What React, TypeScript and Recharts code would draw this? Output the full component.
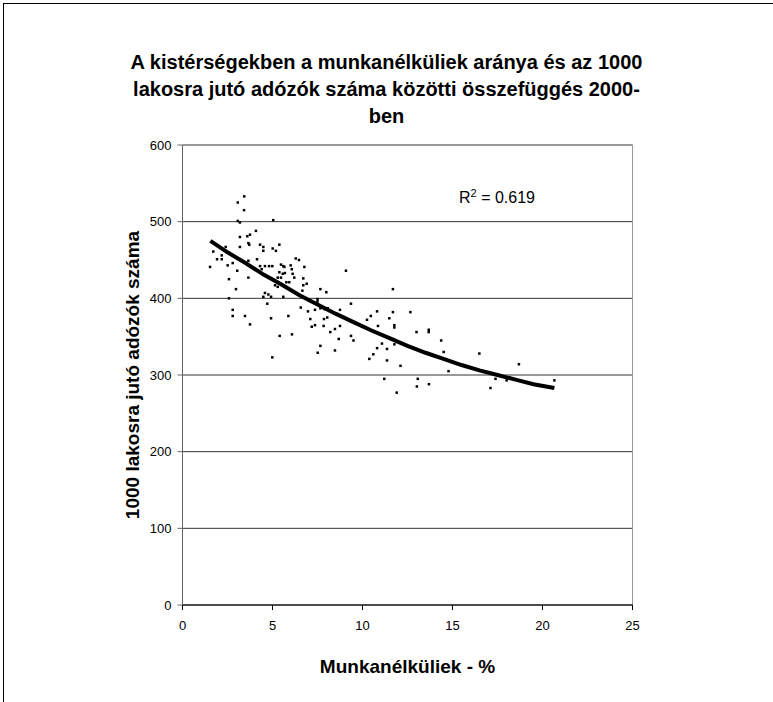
import React from "react";
import { ScatterChart, Scatter, XAxis, YAxis, CartesianGrid, ReferenceLine } from "recharts";

const unemploymentPct: number[] = [
  1.53, 1.71, 1.92, 2.18, 2.18, 2.4, 2.51, 2.58, 2.58, 2.79, 2.79, 2.79, 2.97, 3.04, 3.07, 3.07, 3.19, 3.19, 3.19,
  3.43, 3.42, 3.47, 3.6, 3.66, 3.71, 3.66, 3.66, 3.75, 3.75, 4.08, 4.14, 4.31, 4.31, 4.4, 4.49, 4.49, 4.49, 4.58,
  4.58, 4.71, 4.77, 4.81, 4.92, 4.92, 4.99, 4.99, 5.01, 5.04, 5.14, 5.19, 5.29, 5.29, 5.38, 5.38, 5.4, 5.47, 5.47,
  5.57, 5.6, 5.6, 5.66, 5.69, 5.77, 5.88, 5.93, 6.01, 6.07, 6.08, 6.12, 6.21, 6.29, 6.47,
  6.57, 6.66, 6.71, 6.71, 6.77, 6.9, 6.97, 7.1, 7.18, 7.36, 7.36, 7.5, 7.5, 7.51, 7.66, 7.66, 7.66, 7.86, 7.84,
  7.88, 7.99, 8.04, 8.07, 8.21, 8.47, 8.47, 8.68, 8.75, 8.75, 9.08, 9.36, 9.36, 9.5, 10.25, 10.38, 10.46, 10.6,
  10.81, 10.81, 10.86, 11.08, 11.21, 11.36, 11.36, 11.49, 11.69, 11.69, 11.77, 11.77, 11.77, 11.9, 12.11, 12.66,
  13.0, 13.07, 13.02, 13.68, 13.68, 13.69, 14.37, 14.51, 14.78, 16.49, 17.11, 17.39, 18.01, 18.69, 20.66,
];

const taxpayersPer1000: number[] = [
  441, 461, 451, 456, 451, 467, 443, 425, 400, 446, 385, 377, 412, 436, 525, 501, 499, 480, 467,
  533, 515, 377, 481, 472, 470, 449, 427, 483, 366, 488, 451, 470, 442, 438, 467, 462, 402, 442,
  407, 393, 405, 442, 402, 374, 442, 323, 465, 502, 417, 462, 427, 415, 470, 434, 351, 444, 427,
  432, 442, 402, 441, 433, 421, 377, 421, 443, 438, 353, 432, 427, 452, 450,
  388, 410, 426, 417, 441, 419, 383, 373, 363, 365, 385, 399, 396, 329, 412, 387, 338, 373, 364,
  386, 408, 375, 387, 356, 360, 332, 347, 385, 364, 436, 393, 351, 345, 372, 321, 377, 327,
  383, 335, 364, 341, 295, 334, 319, 374, 412, 382, 365, 362, 340, 277, 312, 382,
  356, 295, 285, 359, 356, 288, 345, 330, 305, 328, 283, 295, 293, 314, 293,
];

const trendX: number[] = [1.55, 2.5, 3.5, 4.5, 5.5, 6.5, 7.5, 8.5, 9.5, 10.5, 11.5, 12.5, 13.5, 14.5, 15.5, 16.5, 17.5, 18.5, 19.5, 20.66];
const trendY: number[] = [475, 460, 446, 431, 418, 404, 392, 380, 369, 358, 348, 338, 329, 321, 313, 306, 300, 294, 288, 283];

const xTicks: number[] = [0, 5, 10, 15, 20, 25];
const yTicks: number[] = [0, 100, 200, 300, 400, 500, 600];

const points = unemploymentPct.map((x, i) => ({ x, y: taxpayersPer1000[i] }));
const trend = trendX.map((x, i) => ({ x, y: trendY[i] }));

const FONT = "'Liberation Sans', Arial, sans-serif";

const Dot = (props: any) => (
  <rect x={props.cx - 1.25} y={props.cy - 1.25} width={2.5} height={2.5} fill="#000" />
);
const NoDot = () => <g />;

export default function App() {
  return (
    <div style={{ position: "absolute", left: 0, top: 0, width: 773, height: 702, overflow: "hidden", background: "#fff", fontFamily: FONT }}>
      <div style={{ position: "absolute", left: 3, top: 3, width: 900, height: 900, borderLeft: "1px solid #000", borderTop: "1px solid #000" }} />
      <div style={{ position: "absolute", left: 0, top: 0 }}>
        <ScatterChart width={773} height={702} margin={{ top: 145, right: 140.5, bottom: 37, left: 102.5 }}>
          <CartesianGrid horizontal={true} vertical={false} stroke="#333" />
          <XAxis
            type="number"
            dataKey="x"
            domain={[0, 25]}
            ticks={xTicks}
            height={60}
            tickSize={5}
            tickMargin={11}
            stroke="#000"
            tick={{ fontSize: 13, fill: "#000", fontFamily: FONT }}
            allowDataOverflow
          />
          <YAxis
            type="number"
            dataKey="y"
            domain={[0, 600]}
            ticks={yTicks}
            width={80}
            tickSize={5}
            tickMargin={6}
            stroke="#666"
            tick={{ fontSize: 13, fill: "#000", fontFamily: FONT }}
            allowDataOverflow
          />
          <ReferenceLine x={25} stroke="#999" />
          <ReferenceLine y={600} stroke="#999" />
          <Scatter data={points} shape={Dot} isAnimationActive={false} />
          <Scatter data={trend} shape={NoDot} line={{ stroke: "#000", strokeWidth: 4 }} lineType="joint" isAnimationActive={false} />
        </ScatterChart>
      </div>
      <div style={{ position: "absolute", left: 0, top: 49, width: 773, textAlign: "center", fontWeight: "bold", fontSize: 20, lineHeight: "27px", color: "#000" }}>
        A kistérségekben a munkanélküliek aránya és az 1000
        <br />
        lakosra jutó adózók száma közötti összefüggés 2000-
        <br />
        ben
      </div>
      <div style={{ position: "absolute", left: 459, top: 183, fontSize: 16, lineHeight: "20px", color: "#000", whiteSpace: "nowrap" }}>
        R<sup style={{ fontSize: 11 }}>2</sup> = 0.619
      </div>
      <div style={{ position: "absolute", left: 407.5, top: 667, transform: "translate(-50%, -50%)", fontSize: 19, fontWeight: "bold", whiteSpace: "nowrap", color: "#000" }}>
        Munkanélküliek - %
      </div>
      <div style={{ position: "absolute", left: 133, top: 375, transform: "translate(-50%, -50%) rotate(-90deg)", fontSize: 19, fontWeight: "bold", whiteSpace: "nowrap", color: "#000" }}>
        1000 lakosra jutó adózók száma
      </div>
    </div>
  );
}
